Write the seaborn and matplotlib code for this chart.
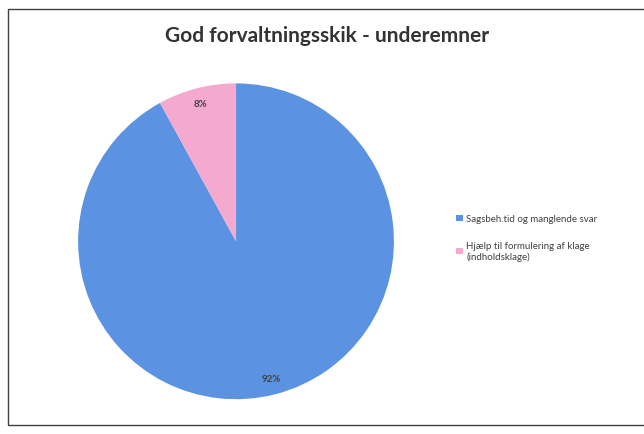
import matplotlib.pyplot as plt
import seaborn as sns
from matplotlib.patches import Rectangle

# data
categories = ['Sagsbeh.tid og manglende svar', 'Hjælp til formulering af klage\n(indholdsklage)']
shares = [92, 8]
colors = ['#5b92e2', '#f4a9cf']

sns.set_theme(style='white')
plt.rcParams['font.family'] = ['Lato', 'DejaVu Sans']

fig = plt.figure(figsize=(6.44, 4.35), dpi=100)
ax = fig.add_axes([0.121, 0.080, 0.491, 0.726])

wedges, texts, autotexts = ax.pie(shares, colors=colors, startangle=90, counterclock=False,
                                  autopct='%1.0f%%', pctdistance=0.9,
                                  wedgeprops={'linewidth': 0},
                                  textprops={'fontsize': 7, 'color': '#404040', 'fontweight': 'bold'})
ax.set_xlim(-1, 1)
ax.set_ylim(-1, 1)
ax.set_aspect('equal')

fig.text(0.508, 0.918, 'God forvaltningsskik - underemner', ha='center', va='center',
         fontsize=15, fontweight='bold', color='#333333')

leg = fig.legend(wedges, categories, loc='upper left', bbox_to_anchor=(0.695, 0.525),
                 frameon=False, fontsize=7, handlelength=0.7, handleheight=0.7,
                 handletextpad=0.3, labelspacing=1.8, labelcolor='#404040')

# outer chart frame
fig.patches.append(Rectangle((0.012, 0.02), 0.99, 0.958, transform=fig.transFigure,
                             fill=False, edgecolor='#404040', linewidth=1))

plt.savefig('out.png', dpi=100)
